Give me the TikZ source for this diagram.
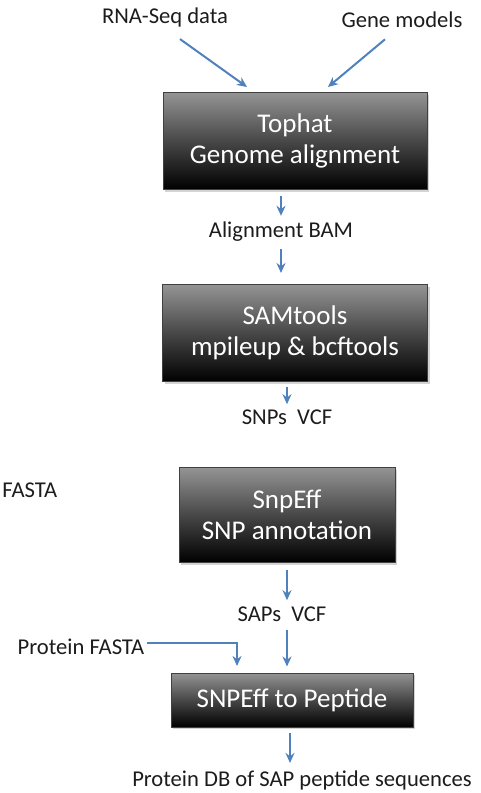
\documentclass[tikz,border=0pt]{standalone}
\usepackage{fontspec}
\setmainfont{Carlito}
\usepackage{tikz}
\usetikzlibrary{arrows.meta,positioning,calc,shadows}
\definecolor{FlowBlue}{HTML}{4F81BD}
\definecolor{FlowInk}{HTML}{1C1C1C}

\begin{document}
\begin{tikzpicture}[
    x=0.5pt, y=-0.5pt,
    tool/.style={
      draw=black!75, line width=0.5pt,
      top color=black!42, bottom color=black, middle color=black!72,
      drop shadow={opacity=0.35, shadow xshift=1.2pt, shadow yshift=-1.2pt},
      font=\fontsize{13.5}{15.5}\selectfont, text=white, align=center,
      inner sep=0pt
    },
    arr/.style={-{Stealth[length=5pt, width=4.5pt]}, line width=1pt, color=FlowBlue},
    lbl/.style={font=\fontsize{11.3}{13}\selectfont, text=FlowInk, inner sep=1pt}
  ]

  \useasboundingbox (0,0) rectangle (481,793);

  % inputs
  \node[lbl] (rna)  at (165, 17) {RNA-Seq data};
  \node[lbl] (gene) at (402, 20) {Gene models};

  % tools
  \node[tool, minimum width=132pt, minimum height=48.5pt] (tophat) at (295, 141)
    {Tophat\\Genome alignment};
  \node[tool, minimum width=132.5pt, minimum height=48.5pt] (samtools) at (295, 333)
    {SAMtools\\mpileup \& bcftools};
  \node[tool, minimum width=108pt, minimum height=47.5pt] (snpeff) at (287, 515)
    {SnpEff\\SNP annotation};
  \node[tool, minimum width=121pt, minimum height=27pt] (peptide) at (292, 700)
    {SNPEff to Peptide};

  % intermediate files
  \node[lbl] (bam)   at (281, 232) {Alignment BAM};
  \node[lbl] (snps)  at (287, 417) {SNPs~~VCF};
  \node[lbl] (saps)  at (282, 614) {SAPs~~VCF};
  \node[lbl] (fasta) at (81, 647)  {Protein FASTA};
  \node[lbl, anchor=west, inner sep=0pt] (cutfasta) at (2, 490) {FASTA};
  \node[lbl] (db)    at (302, 780) {Protein DB of SAP peptide sequences};

  \coordinate (in1) at (247, 87);
  \coordinate (in2) at (328, 87);
  \coordinate (in3) at (237, 666);

  \draw[arr] ([shift={(15,10)}]rna.south) -- (in1);
  \draw[arr] ([shift={(-17,9)}]gene.south) -- (in2);

  \draw[arr] ([shift={(-14,6)}]tophat.south) -- ([shift={(0,-4)}]bam.north);
  \draw[arr] ([shift={(0,5)}]bam.south) -- ([shift={(-14,-11)}]samtools.north);
  \draw[arr] ([shift={(-8,5)}]samtools.south) -- ([shift={(0,-3)}]snps.north);
  \draw[arr] ([shift={(0,7)}]snpeff.south) -- ([shift={(5,-4)}]saps.north);
  \draw[arr] ([shift={(5,6)}]saps.south) -- ([shift={(-5,-6)}]peptide.north);
  \draw[arr] ([shift={(0,-4)}]fasta.east) -| (in3);
  \draw[arr] ([shift={(-2,5)}]peptide.south) -- ([shift={(-12,-5)}]db.north);

\end{tikzpicture}
\end{document}
